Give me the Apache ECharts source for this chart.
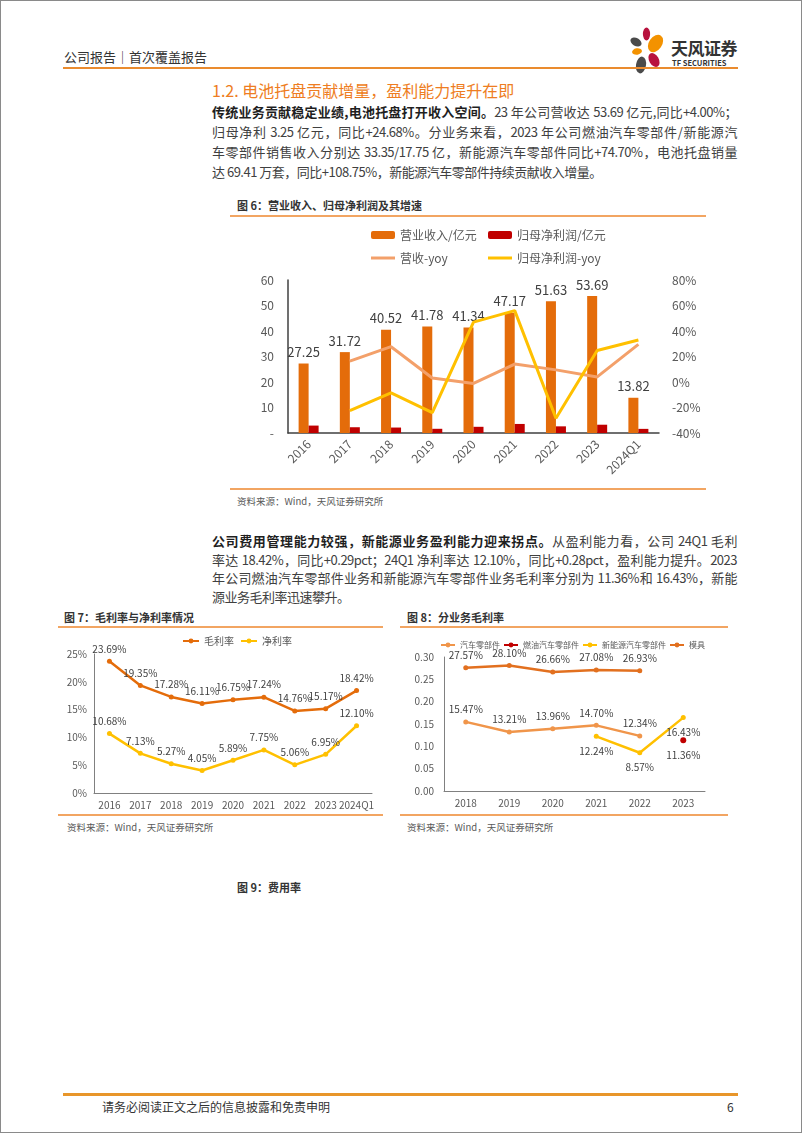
<!DOCTYPE html>
<html lang="zh-CN">
<head>
<meta charset="UTF-8">
<title>公司报告</title>
<style>
    html,body{margin:0;padding:0;background:#fff;}
    body{width:802px;height:1133px;position:relative;overflow:hidden;font-family:"Noto Sans CJK SC",sans-serif;color:#404040;}
    .abs{position:absolute;white-space:nowrap;}
    #frame{position:absolute;left:0;top:0;width:800px;height:1131px;border:1px solid #8a8a8a;}
    .hr{position:absolute;}
    .para{position:absolute;left:212px;width:525px;font-size:13px;letter-spacing:-0.5px;}
    .para div{text-align:justify;text-align-last:justify;}
    .para div.last{text-align-last:left;}
    .para b{color:#1f1f1f;}
    .ftitle{position:absolute;font-size:11px;font-weight:bold;color:#333;white-space:nowrap;line-height:14px;}
    .src{position:absolute;font-size:9.5px;color:#595959;white-space:nowrap;line-height:12px;}
    .chart{position:absolute;}
</style>
</head>
<body>
<div id="frame"></div>

<div class="abs" style="left:64px;top:49px;font-size:13px;line-height:16px;color:#333;">公司报告｜首次覆盖报告</div>
<svg class="abs" style="left:625px;top:24px;" width="45" height="55" viewBox="625 24 45 55">
    <ellipse cx="646.5" cy="34" rx="3.6" ry="6.5" fill="#B8123E"/>
    <ellipse cx="655.5" cy="43.5" rx="6.5" ry="9.5" fill="#F39200" transform="rotate(35 655.5 43.5)"/>
    <ellipse cx="636" cy="42" rx="6" ry="4" fill="#4A4A4A" transform="rotate(30 636 42)"/>
    <ellipse cx="637" cy="51.5" rx="5" ry="3.2" fill="#F39200" transform="rotate(-10 637 51.5)"/>
    <ellipse cx="641" cy="65" rx="5" ry="8.5" fill="#4A4A4A" transform="rotate(10 641 65)"/>
    <ellipse cx="654" cy="60" rx="4.8" ry="7.5" fill="#B8123E" transform="rotate(-30 654 60)"/>
</svg>
<div class="abs" style="left:671px;top:37px;font-size:17px;line-height:22px;font-weight:bold;color:#333;letter-spacing:-0.5px;">天风证券</div>
<div class="abs" style="left:672px;top:58px;font-size:7.5px;line-height:10px;font-weight:bold;color:#333;">TF SECURITIES</div>
<div class="hr" style="left:63px;top:67px;width:675px;height:2px;background:#EA8B2E;"></div>

<div class="abs" style="left:212px;top:80px;font-size:16px;line-height:20px;color:#EE7D22;">1.2. 电池托盘贡献增量，盈利能力提升在即</div>

<div class="para" style="top:102px;line-height:20px;">
    <div><b>传统业务贡献稳定业绩,电池托盘打开收入空间。</b>23 年公司营收达 53.69 亿元,同比+4.00%；</div>
    <div>归母净利 3.25 亿元，同比+24.68%。分业务来看，2023 年公司燃油汽车零部件/新能源汽</div>
    <div>车零部件销售收入分别达 33.35/17.75 亿，新能源汽车零部件同比+74.70%，电池托盘销量</div>
    <div class="last">达 69.41 万套，同比+108.75%，新能源汽车零部件持续贡献收入增量。</div>
</div>

<div class="ftitle" style="left:237px;top:198px;">图 6：营业收入、归母净利润及其增速</div>
<div class="hr" style="left:230px;top:215px;width:476px;height:1.5px;background:#F2A562;"></div>
<div class="chart" id="c6" style="left:220px;top:220px;width:500px;height:265px;"></div>
<div class="hr" style="left:230px;top:488px;width:476px;height:1.5px;background:#F2A562;"></div>
<div class="src" style="left:237px;top:495px;">资料来源：Wind，天风证券研究所</div>

<div class="para" style="top:532px;line-height:18.5px;">
    <div><b>公司费用管理能力较强，新能源业务盈利能力迎来拐点。</b>从盈利能力看，公司 24Q1 毛利</div>
    <div>率达 18.42%，同比+0.29pct；24Q1 净利率达 12.10%，同比+0.28pct，盈利能力提升。2023</div>
    <div>年公司燃油汽车零部件业务和新能源汽车零部件业务毛利率分别为 11.36%和 16.43%，新能</div>
    <div class="last">源业务毛利率迅速攀升。</div>
</div>

<div class="ftitle" style="left:64px;top:610px;">图 7：毛利率与净利率情况</div>
<div class="hr" style="left:58px;top:626px;width:325px;height:1.5px;background:#F2A562;"></div>
<div class="chart" id="c7" style="left:55px;top:628px;width:335px;height:186px;"></div>
<div class="hr" style="left:58px;top:814px;width:325px;height:1.5px;background:#F2A562;"></div>
<div class="src" style="left:67px;top:821px;">资料来源：Wind，天风证券研究所</div>

<div class="ftitle" style="left:407px;top:610px;">图 8：分业务毛利率</div>
<div class="hr" style="left:400px;top:626px;width:328px;height:1.5px;background:#F2A562;"></div>
<div class="chart" id="c8" style="left:395px;top:628px;width:340px;height:186px;"></div>
<div class="hr" style="left:400px;top:814px;width:328px;height:1.5px;background:#F2A562;"></div>
<div class="src" style="left:407px;top:821px;">资料来源：Wind，天风证券研究所</div>

<div class="ftitle" style="left:237px;top:880px;">图 9：费用率</div>

<div class="hr" style="left:63px;top:1093px;width:675px;height:2.5px;background:#E8962A;"></div>
<div class="abs" style="left:102px;top:1099px;font-size:12px;line-height:15px;color:#333;">请务必阅读正文之后的信息披露和免责申明</div>
<div class="abs" style="left:727px;top:1099px;font-size:12px;line-height:15px;color:#333;">6</div>

<script src="https://cdn.jsdelivr.net/npm/echarts@6/dist/echarts.min.js"></script>
<script>
    var FONT = '"Noto Sans CJK SC", sans-serif';

    // 图6 营业收入、归母净利润及其增速
    var years6 = ['2016', '2017', '2018', '2019', '2020', '2021', '2022', '2023', '2024Q1'];
    var revenue = [27.25, 31.72, 40.52, 41.78, 41.34, 47.17, 51.63, 53.69, 13.82];
    var netProfit = [2.91, 2.26, 2.14, 1.65, 2.43, 3.55, 2.61, 3.25, 1.62];
    var revYoy = [null, 16.4, 27.7, 3.1, -1.1, 14.1, 9.5, 4.0, 29.5];
    var netYoy = [null, -22.5, -8.5, -24.0, 47.0, 56.0, -28.5, 24.7, 33.0];

    // 图7 毛利率与净利率
    var years7 = ['2016', '2017', '2018', '2019', '2020', '2021', '2022', '2023', '2024Q1'];
    var grossMargin = [23.69, 19.35, 17.28, 16.11, 16.75, 17.24, 14.76, 15.17, 18.42];
    var netMargin = [10.68, 7.13, 5.27, 4.05, 5.89, 7.75, 5.06, 6.95, 12.10];

    // 图8 分业务毛利率
    var years8 = ['2018', '2019', '2020', '2021', '2022', '2023'];
    var autoParts = [0.1547, 0.1321, 0.1396, 0.1470, 0.1234, null];
    var fuelParts = [null, null, null, null, null, 0.1136];
    var nevParts = [null, null, null, 0.1224, 0.0857, 0.1643];
    var molds = [0.2757, 0.2810, 0.2666, 0.2708, 0.2693, null];

    var c6 = echarts.init(document.getElementById('c6'));
    var lg6 = {itemWidth: 24, itemHeight: 8, textStyle: {fontSize: 12, color: '#595959'}, selectedMode: false};
    c6.setOption({
        animation: false,
        textStyle: {fontFamily: FONT},
        legend: [
            Object.assign({data: ['营业收入/亿元'], left: 146, top: 4}, lg6),
            Object.assign({data: ['归母净利润/亿元'], left: 263, top: 4}, lg6),
            Object.assign({data: [{name: '营收-yoy', icon: 'rect'}], left: 146, top: 27}, lg6, {itemHeight: 3}),
            Object.assign({data: [{name: '归母净利润-yoy', icon: 'rect'}], left: 263, top: 27}, lg6, {itemHeight: 3})
        ],
        grid: {left: 68, top: 60, width: 371, height: 153},
        xAxis: {
            type: 'category',
            data: years6,
            axisLine: {lineStyle: {color: '#404040', width: 1.5}},
            axisTick: {show: false},
            axisLabel: {rotate: 45, interval: 0, fontSize: 12, color: '#595959', margin: 9}
        },
        yAxis: [{
            type: 'value', min: 0, max: 60, interval: 10,
            axisLine: {show: true, lineStyle: {color: '#404040', width: 1.5}},
            axisTick: {show: false},
            splitLine: {show: false},
            axisLabel: {fontSize: 12, color: '#595959', margin: 14, formatter: function (v) { return v === 0 ? '-' : v; }}
        }, {
            type: 'value', min: -40, max: 80, interval: 20, position: 'right',
            axisLine: {show: false},
            axisTick: {show: false},
            splitLine: {show: false},
            axisLabel: {fontSize: 12, color: '#595959', margin: 13, formatter: '{value}%'}
        }],
        series: [{
            name: '营业收入/亿元', type: 'bar', data: revenue,
            barWidth: 10, barGap: '0%',
            itemStyle: {color: '#E46C0A'},
            label: {show: true, position: 'top', fontSize: 13, color: '#404040', distance: 5}
        }, {
            name: '归母净利润/亿元', type: 'bar', data: netProfit,
            barWidth: 10,
            itemStyle: {color: '#C00000'}
        }, {
            name: '营收-yoy', type: 'line', yAxisIndex: 1, data: revYoy,
            symbol: 'none', z: 3,
            lineStyle: {width: 3, color: '#F3A06A'},
            itemStyle: {color: '#F3A06A'}
        }, {
            name: '归母净利润-yoy', type: 'line', yAxisIndex: 1, data: netYoy,
            symbol: 'none', z: 3,
            lineStyle: {width: 3, color: '#FFC000'},
            itemStyle: {color: '#FFC000'}
        }]
    });

    function pct(p) { return p.value.toFixed(2) + '%'; }

    var c7 = echarts.init(document.getElementById('c7'));
    c7.setOption({
        animation: false,
        textStyle: {fontFamily: FONT},
        legend: {
            left: 122, top: 3, itemWidth: 16, itemHeight: 6, itemGap: 6,
            selectedMode: false,
            textStyle: {fontSize: 10, color: '#595959'}
        },
        grid: {left: 39, top: 26, width: 278, height: 139},
        xAxis: {
            type: 'category', data: years7,
            axisLine: {lineStyle: {color: '#808080'}},
            axisTick: {show: false},
            axisLabel: {interval: 0, fontSize: 10, color: '#595959', margin: 7}
        },
        yAxis: {
            type: 'value', min: 0, max: 25, interval: 5,
            axisLine: {show: true, lineStyle: {color: '#808080'}},
            axisTick: {show: false},
            splitLine: {show: false},
            axisLabel: {fontSize: 10, color: '#595959', margin: 7, formatter: '{value}%'}
        },
        series: [{
            name: '毛利率', type: 'line', data: grossMargin,
            symbol: 'circle', symbolSize: 5,
            lineStyle: {width: 2.5, color: '#E46C0A'},
            itemStyle: {color: '#E46C0A'},
            label: {show: true, position: 'top', fontSize: 10, color: '#404040', formatter: pct}
        }, {
            name: '净利率', type: 'line', data: netMargin,
            symbol: 'circle', symbolSize: 5,
            lineStyle: {width: 2.5, color: '#FFC000'},
            itemStyle: {color: '#FFC000'},
            label: {show: true, position: 'top', fontSize: 10, color: '#404040', formatter: pct}
        }]
    });

    function pct100(p) { return (p.value * 100).toFixed(2) + '%'; }

    var c8 = echarts.init(document.getElementById('c8'));
    c8.setOption({
        animation: false,
        textStyle: {fontFamily: FONT},
        legend: {
            left: 40, top: 8, width: 300, itemWidth: 14, itemHeight: 6, itemGap: 3,
            selectedMode: false,
            textStyle: {fontSize: 8, color: '#595959'}
        },
        grid: {left: 49, top: 29, width: 261, height: 134},
        xAxis: {
            type: 'category', data: years8,
            axisLine: {lineStyle: {color: '#808080'}},
            axisTick: {show: false},
            axisLabel: {interval: 0, fontSize: 10, color: '#595959', margin: 7}
        },
        yAxis: {
            type: 'value', min: 0, max: 0.3, interval: 0.05,
            axisLine: {show: true, lineStyle: {color: '#808080'}},
            axisTick: {show: false},
            splitLine: {show: false},
            axisLabel: {fontSize: 10, color: '#595959', margin: 10, formatter: function (v) { return v.toFixed(2); }}
        },
        series: [{
            name: '汽车零部件', type: 'line', data: autoParts,
            symbol: 'circle', symbolSize: 5,
            lineStyle: {width: 2.5, color: '#F0954A'},
            itemStyle: {color: '#F0954A'},
            label: {show: true, position: 'top', fontSize: 10, color: '#404040', formatter: pct100}
        }, {
            name: '燃油汽车零部件', type: 'line', data: fuelParts,
            symbol: 'circle', symbolSize: 6,
            lineStyle: {width: 2.5, color: '#C00000'},
            itemStyle: {color: '#C00000'},
            label: {show: true, position: 'bottom', distance: 7, fontSize: 10, color: '#404040', formatter: pct100}
        }, {
            name: '新能源汽车零部件', type: 'line', data: nevParts,
            symbol: 'circle', symbolSize: 5,
            lineStyle: {width: 2.5, color: '#FFC000'},
            itemStyle: {color: '#FFC000'},
            label: {show: true, position: 'bottom', distance: 7, fontSize: 10, color: '#404040', formatter: pct100}
        }, {
            name: '模具', type: 'line', data: molds,
            symbol: 'circle', symbolSize: 5,
            lineStyle: {width: 2.5, color: '#E2701F'},
            itemStyle: {color: '#E2701F'},
            label: {show: true, position: 'top', fontSize: 10, color: '#404040', formatter: pct100}
        }]
    });
</script>
</body>
</html>
